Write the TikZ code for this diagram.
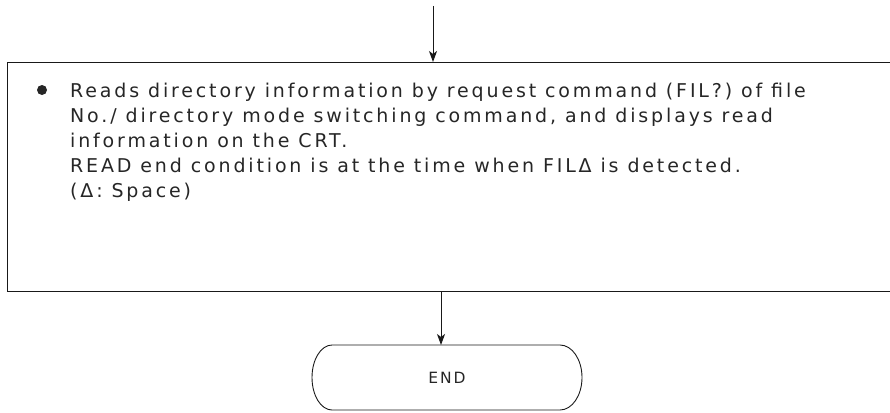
\documentclass[tikz,border=0pt]{standalone}
\usepackage{fontspec}
\setmainfont{DejaVu Sans}
\newfontfamily\bodyfont[LetterSpace=15]{DejaVu Sans}
\newfontfamily\endfont[LetterSpace=12]{DejaVu Sans}
\usetikzlibrary{arrows.meta}
\begin{document}
\begin{tikzpicture}[x=1pt,y=1pt,
  line/.style={draw=black!90,line width=0.9pt},
  flow/.style={line,-{Stealth[length=11pt,width=8pt,inset=3pt]}},
  bodytext/.style={anchor=north west,inner sep=0pt,align=left,
    font=\bodyfont\fontsize{19}{25}\selectfont,text=black!85},
  endtext/.style={inner sep=0pt,font=\endfont\fontsize{15.5}{17}\selectfont,text=black!85}]
\useasboundingbox (0,0) rectangle (890,-412);
% process box (right side runs off the page)
\coordinate (boxTL) at (7,-62);
\coordinate (boxBL) at (7,-291);
\coordinate (boxTR) at (890,-62);
\coordinate (boxBR) at (890,-291);
\draw[line] (boxTR) -- (boxTL) -- (boxBL) -- (boxBR);
\coordinate (inTop) at (433,-6);
\coordinate (boxIn) at (433,-62);
\coordinate (boxOut) at (441,-291);
\draw[flow] (inTop) -- (boxIn);
% bullet and text
\node[circle,fill=black!85,inner sep=0pt,minimum size=10pt] (bullet) at (42,-90) {};
\node[bodytext] (txt) at (70,-79) {\rule{0pt}{18pt}Reads directory information by request command (FIL?) of file\\
No./ directory mode switching command, and displays read\\
information on the CRT.\\
READ end condition is at the time when FILΔ is detected.\\
(Δ: Space)};
% END terminal
\coordinate (endTL) at (332,-345);
\coordinate (endTR) at (560,-345);
\coordinate (endBR) at (560,-410);
\coordinate (endBL) at (332,-410);
\draw[line] (endTL) -- (endTR) arc[start angle=90,end angle=-90,x radius=22,y radius=32.5]
  -- (endBL) arc[start angle=270,end angle=90,x radius=20,y radius=32.5] -- cycle;
\node[endtext] (endt) at (447,-378) {END};
\coordinate (endIn) at (441,-345);
\draw[flow] (boxOut) -- (endIn);
\end{tikzpicture}
\end{document}
